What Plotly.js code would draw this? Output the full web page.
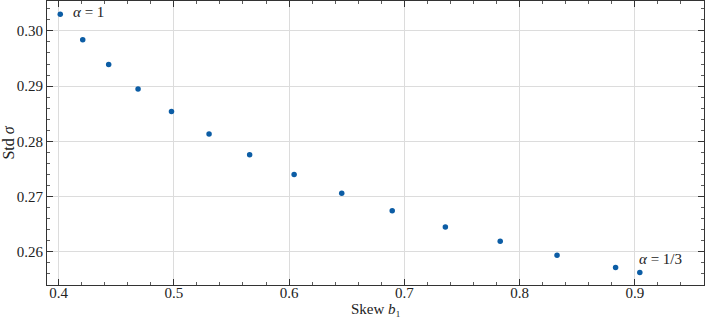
<!DOCTYPE html>
<html>
<head>
<meta charset="utf-8">
<script src="https://cdn.plot.ly/plotly-3.0.1.min.js"></script>
<style>html,body{margin:0;padding:0;background:#fff;}#chart{width:706px;height:319px;}</style>
</head>
<body>
<div id="chart"></div>
<script>
const skew = [0.4015, 0.421, 0.4435, 0.469, 0.498, 0.5306, 0.5658, 0.6044, 0.6457, 0.6895, 0.7356, 0.7832, 0.8325, 0.8833, 0.9043];
const stdSigma = [0.3030, 0.2984, 0.2939, 0.2895, 0.2854, 0.28135, 0.2776, 0.2740, 0.2706, 0.26746, 0.2645, 0.2619, 0.2594, 0.25717, 0.25626];
const labelTexts = ["\u03B1 = 1", "\u03B1 = 1/3"];
const xTitle = "Skew <i>b</i>\u2081";
const yTitle = "Std <i>\u03C3</i>";
const xTicks = [0.4, 0.5, 0.6, 0.7, 0.8, 0.9];
const yTicks = [0.26, 0.27, 0.28, 0.29, 0.30];

const font = {family: "'Liberation Serif', 'DejaVu Serif', serif", size: 16, color: "#222"};
const tickFont = Object.assign({}, font, {size: 15});
const axisCommon = {
  showline: true, linecolor: "#333", linewidth: 1, mirror: "allticks",
  ticks: "inside", ticklen: 6, tickwidth: 1, tickcolor: "#333",
  showgrid: true, gridcolor: "#dcdcdc", gridwidth: 1, zeroline: false,
  tickfont: tickFont,
  minor: {ticks: "inside", ticklen: 3, tickwidth: 0.8, tickcolor: "#333", showgrid: false}
};

const trace = {
  x: skew, y: stdSigma, type: "scatter", mode: "markers",
  marker: {color: "#0C5DA5", size: 5.5}, hoverinfo: "skip"
};

const layout = {
  width: 706, height: 319,
  margin: {l: 47, r: 1.5, t: 0.5, b: 34},
  paper_bgcolor: "#fff", plot_bgcolor: "#fff",
  showlegend: false, font: font,
  xaxis: Object.assign({}, axisCommon, {
    range: [0.390, 0.960], tickvals: xTicks, ticktext: xTicks.map(v => v.toFixed(1)),
    ticklabelstandoff: -6,
    minor: Object.assign({}, axisCommon.minor, {dtick: 0.02, tick0: 0.4})
  }),
  yaxis: Object.assign({}, axisCommon, {
    range: [0.2540, 0.30541], tickvals: yTicks, ticktext: yTicks.map(v => v.toFixed(2)),
    minor: Object.assign({}, axisCommon.minor, {dtick: 0.002, tick0: 0.26}),
    title: {text: yTitle, font: font, standoff: 6}
  }),
  annotations: [
    {x: 0.5, y: -0.1193, xref: "paper", yref: "paper", text: xTitle, showarrow: false, xanchor: "center", yanchor: "bottom", font: tickFont},
    {x: 0.4104, y: 0.30334, xref: "x", yref: "y", text: "<i>" + labelTexts[0].charAt(0) + "</i>" + labelTexts[0].slice(1), showarrow: false, xanchor: "left", yanchor: "middle", font: tickFont},
    {x: 0.9017, y: 0.25866, xref: "x", yref: "y", text: "<i>" + labelTexts[1].charAt(0) + "</i>" + labelTexts[1].slice(1), showarrow: false, xanchor: "left", yanchor: "middle", font: tickFont}
  ]
};

Plotly.newPlot("chart", [trace], layout, {staticPlot: true, displayModeBar: false});
</script>
</body>
</html>
